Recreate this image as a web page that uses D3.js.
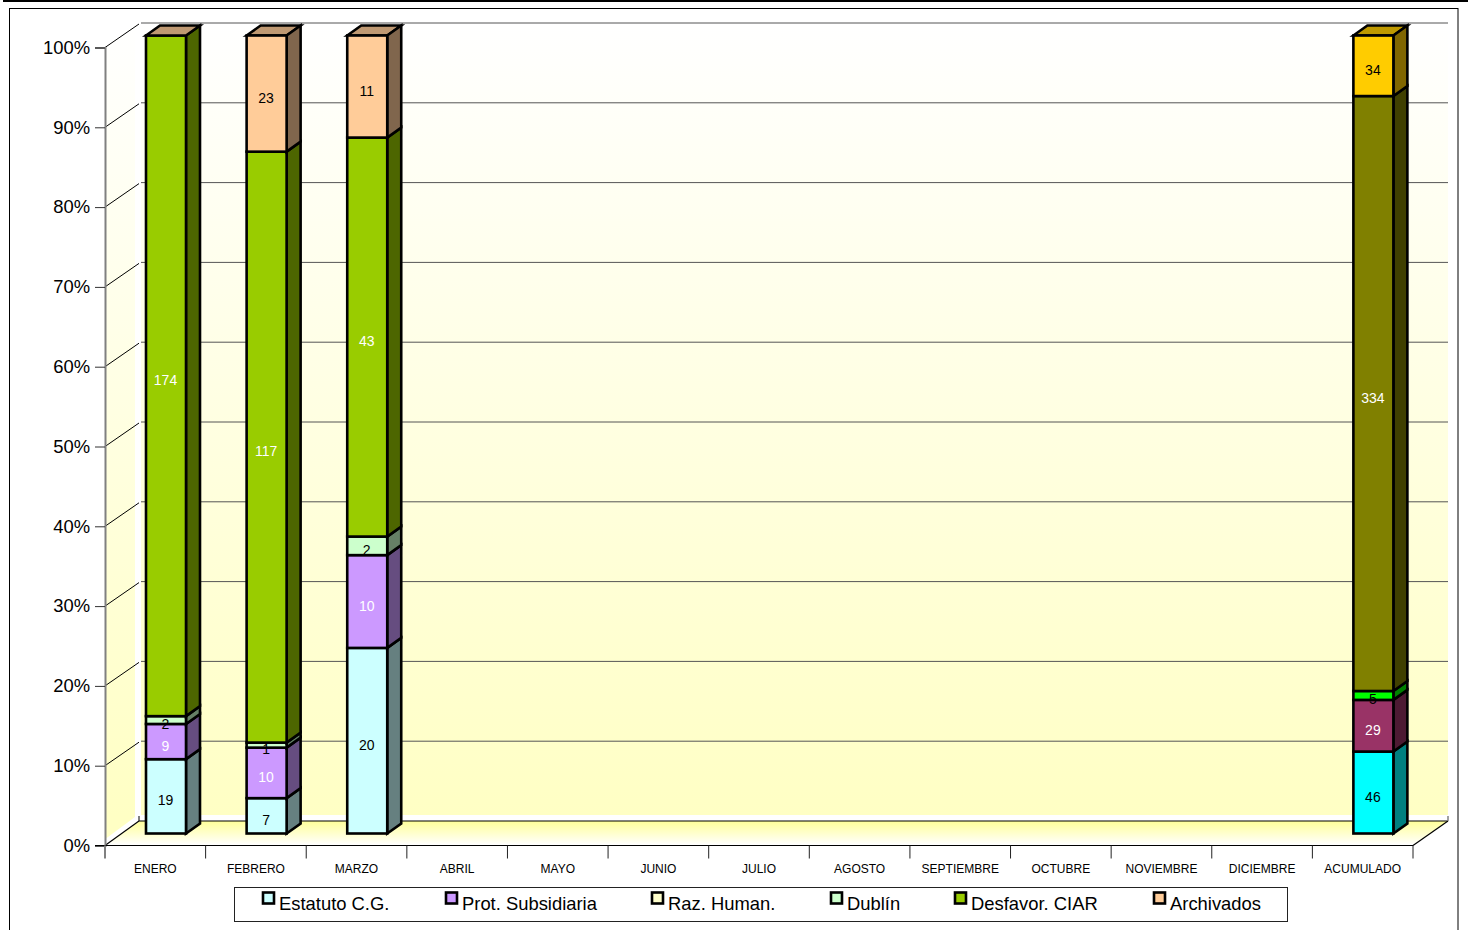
<!DOCTYPE html>
<html>
<head>
<meta charset="utf-8">
<script src="https://cdn.jsdelivr.net/npm/d3@7"></script>
<style>
  body { margin: 0; background: #fff; }
  svg { display: block; }
  text { font-family: "Liberation Sans", Arial, sans-serif; fill: #000; }
</style>
</head>
<body>
<svg id="chart" width="1468" height="930"></svg>
<script>
const categories = ['ENERO', 'FEBRERO', 'MARZO', 'ABRIL', 'MAYO', 'JUNIO', 'JULIO', 'AGOSTO',
  'SEPTIEMBRE', 'OCTUBRE', 'NOVIEMBRE', 'DICIEMBRE', 'ACUMULADO'];
const seriesNames = ['Estatuto C.G.', 'Prot. Subsidiaria', 'Raz. Human.', 'Dublín', 'Desfavor. CIAR', 'Archivados'];

const estatuto = [19, 7, 20, 0, 0, 0, 0, 0, 0, 0, 0, 0, 46];
const protSub = [9, 10, 10, 0, 0, 0, 0, 0, 0, 0, 0, 0, 29];
const razHuman = [0, 0, 0, 0, 0, 0, 0, 0, 0, 0, 0, 0, 0];
const dublin = [2, 1, 2, 0, 0, 0, 0, 0, 0, 0, 0, 0, 5];
const desfavor = [174, 117, 43, 0, 0, 0, 0, 0, 0, 0, 0, 0, 334];
const archivados = [0, 23, 11, 0, 0, 0, 0, 0, 0, 0, 0, 0, 34];
const allSeries = [estatuto, protSub, razHuman, dublin, desfavor, archivados];

const percentTicks = [0, 10, 20, 30, 40, 50, 60, 70, 80, 90, 100];

const monthColors = ['#CCFFFF', '#CC99FF', '#FFFFCC', '#CCFFCC', '#99CC00', '#FFCC99'];
const totalColors = ['#00FFFF', '#993366', '#FFFF99', '#00FF00', '#808000', '#FFCC00'];
const whiteLabels = ['Prot. Subsidiaria', 'Desfavor. CIAR'];

const legendX = [263, 446, 652, 831, 955, 1154];

const svg = d3.select('#chart');

// page frame
svg.append('rect').attr('x', 3).attr('y', 0).attr('width', 1465).attr('height', 2).attr('fill', '#000');
svg.append('rect').attr('x', 9.5).attr('y', 8.5).attr('width', 1448.5).attr('height', 930)
  .attr('fill', '#fff').attr('stroke', '#000');

// scales
const x = d3.scaleBand().domain(categories).range([105, 1413]);
const y = d3.scaleLinear().domain([0, 100]).range([845.5, 47.5]);

// 3d offsets: wall depth, bar position inside the floor, bar own depth
const wallDx = 35, wallDy = -24.5;
const barShiftY = -12, barDx = 14, barDy = -10;
const barLeft = 41, barWidth = 40;

const defs = svg.append('defs');
const wallGrad = defs.append('linearGradient').attr('id', 'wall')
  .attr('gradientUnits', 'userSpaceOnUse').attr('x1', 0).attr('x2', 0).attr('y1', 22).attr('y2', 815);
wallGrad.append('stop').attr('offset', 0).attr('stop-color', '#fff');
wallGrad.append('stop').attr('offset', 1).attr('stop-color', '#FFFFC4');
const floorGrad = defs.append('linearGradient').attr('id', 'floor')
  .attr('gradientUnits', 'userSpaceOnUse').attr('x1', 0).attr('x2', 0).attr('y1', 821).attr('y2', 845);
floorGrad.append('stop').attr('offset', 0).attr('stop-color', '#FFFF99');
floorGrad.append('stop').attr('offset', 1).attr('stop-color', '#fff');

// walls and floor
const x0 = x.range()[0], x1 = x.range()[1];
const y0 = y(0), y100 = y(100);
svg.append('polygon').attr('fill', 'url(#wall)')
  .attr('points', [[x0 + 1, y0 - 7], [x0 + wallDx - 5, y0 + wallDy - 4], [x0 + wallDx - 5, y100 + wallDy], [x0 + 1, y100]].join(' '));
svg.append('rect').attr('fill', 'url(#wall)')
  .attr('x', x0 + wallDx + 1).attr('y', y100 + wallDy)
  .attr('width', x1 - x0 - 1).attr('height', y0 - y100 - 6);
svg.append('polygon').attr('fill', 'url(#floor)')
  .attr('points', [[x0, y0], [x1, y0], [x1 + wallDx, y0 + wallDy], [x0 + wallDx, y0 + wallDy]].join(' '));

// gridlines
percentTicks.filter((d) => d > 0).forEach((d) => {
  svg.append('line').attr('stroke', '#000').attr('stroke-width', 1)
    .attr('x1', x0).attr('y1', y(d)).attr('x2', x0 + wallDx - 1).attr('y2', y(d) + wallDy + 1);
  svg.append('line').attr('stroke', '#555').attr('stroke-width', 1)
    .attr('x1', x0 + wallDx + 1).attr('y1', y(d) + wallDy).attr('x2', x1 + wallDx).attr('y2', y(d) + wallDy);
});

// floor edges
const floorEdges = [
  [x0, y0, x0 + wallDx - 1, y0 + wallDy],
  [x1, y0, x1 + wallDx, y0 + wallDy],
  [x0 + wallDx - 1, y0 + wallDy, x1 + wallDx, y0 + wallDy]
];
floorEdges.forEach(([a, b, c, d]) => {
  svg.append('line').attr('stroke', '#000').attr('stroke-width', 1.2)
    .attr('x1', a).attr('y1', b).attr('x2', c).attr('y2', d);
});
svg.append('line').attr('stroke', '#000').attr('x1', x0 + wallDx - 1).attr('x2', x0 + wallDx - 1)
  .attr('y1', y0 + wallDy - 5).attr('y2', y0 + wallDy);
svg.append('line').attr('stroke', '#808080').attr('stroke-width', 1.5).attr('x1', x1 + wallDx).attr('x2', x1 + wallDx)
  .attr('y1', y0 + wallDy - 5).attr('y2', y0 + wallDy);

// axes
const yAxis = d3.axisLeft(y).tickValues(percentTicks).tickFormat((d) => d + '%').tickSize(10).tickPadding(5);
const yG = svg.append('g').attr('transform', `translate(${x0},0)`).call(yAxis);
yG.select('.domain').attr('stroke', '#808080').attr('stroke-width', 2);
yG.selectAll('.tick line').attr('stroke', '#333').attr('stroke-width', 1);
yG.selectAll('.tick text').attr('font-size', 18.4).attr('font-family', '"Liberation Sans", Arial, sans-serif');

const bottomY = y0;
svg.append('line').attr('stroke', '#000').attr('stroke-width', 1.2)
  .attr('x1', 95).attr('x2', x1).attr('y1', bottomY).attr('y2', bottomY);
const xAxis = d3.axisBottom(x).tickSize(0).tickPadding(19);
const xG = svg.append('g').attr('transform', `translate(0,${bottomY})`).call(xAxis);
xG.select('.domain').remove();
xG.selectAll('.tick text').attr('font-size', 12).attr('font-family', '"Liberation Sans", Arial, sans-serif');
categories.forEach((c, i) => {
  const tx = x(c);
  svg.append('line').attr('stroke', i === 0 ? '#808080' : '#222').attr('stroke-width', i === 0 ? 2 : 1)
    .attr('x1', tx).attr('x2', tx).attr('y1', bottomY).attr('y2', bottomY + 13);
});
svg.append('line').attr('stroke', '#222').attr('x1', x1).attr('x2', x1).attr('y1', bottomY).attr('y2', bottomY + 13);

// stacked bars
const rows = categories.map((c, i) => {
  const row = { category: c };
  seriesNames.forEach((s, j) => { row[s] = allSeries[j][i]; });
  return row;
});
const stacked = d3.stack().keys(seriesNames).offset(d3.stackOffsetExpand)(rows);

const colorFor = (d, j) => (d.data.category === 'ACUMULADO' ? totalColors[j] : monthColors[j]);
const shade = (col, k) => {
  const c = d3.rgb(col);
  return d3.rgb(c.r * k, c.g * k, c.b * k).formatHex();
};
const polyStyle = (sel) => sel.attr('stroke', '#000').attr('stroke-width', 2.6).attr('stroke-linejoin', 'miter');

const barsG = svg.append('g');
const labelsG = svg.append('g');

categories.forEach((c, i) => {
  const bx = x(c) + barLeft;
  const total = d3.sum(allSeries, (s) => s[i]);
  if (!total) return;
  const lastIndex = stacked.length - 1;

  stacked.forEach((layer, j) => {
    const d = layer[i];
    const yTop = y(d[1] * 100) + barShiftY;
    const yBot = y(d[0] * 100) + barShiftY;
    const col = colorFor(d, j);
    // the top lid always takes the last series colour, even when that value is 0
    if (j === lastIndex) {
      barsG.append('polygon').call(polyStyle).attr('fill', shade(col, 0.75))
        .attr('points', [[bx, yTop], [bx + barDx, yTop + barDy],
          [bx + barWidth + barDx, yTop + barDy], [bx + barWidth, yTop]].join(' '));
    }
    if (allSeries[j][i] <= 0) return;
    barsG.append('polygon').call(polyStyle).attr('fill', shade(col, 0.5))
      .attr('points', [[bx + barWidth, yTop], [bx + barWidth + barDx, yTop + barDy],
        [bx + barWidth + barDx, yBot + barDy], [bx + barWidth, yBot]].join(' '));
    barsG.append('rect').call(polyStyle).attr('fill', col)
      .attr('x', bx).attr('y', yTop).attr('width', barWidth).attr('height', yBot - yTop);
    labelsG.append('text')
      .attr('x', bx + barWidth / 2 - 0.5)
      .attr('y', (yTop + yBot) / 2 + 9)
      .attr('text-anchor', 'middle')
      .attr('font-size', 14)
      .style('fill', whiteLabels.includes(seriesNames[j]) ? '#fff' : '#000')
      .text(allSeries[j][i]);
  });
});

// legend
svg.append('rect').attr('x', 234.5).attr('y', 887.5).attr('width', 1053).attr('height', 34)
  .attr('fill', '#fff').attr('stroke', '#222').attr('stroke-width', 1);
seriesNames.forEach((s, j) => {
  svg.append('rect').attr('x', legendX[j]).attr('y', 892.5).attr('width', 11).attr('height', 11)
    .attr('fill', monthColors[j]).attr('stroke', '#000').attr('stroke-width', 2.6);
  svg.append('text').attr('x', legendX[j] + 16).attr('y', 910).attr('font-size', 18.4).text(s);
});
</script>
</body>
</html>
